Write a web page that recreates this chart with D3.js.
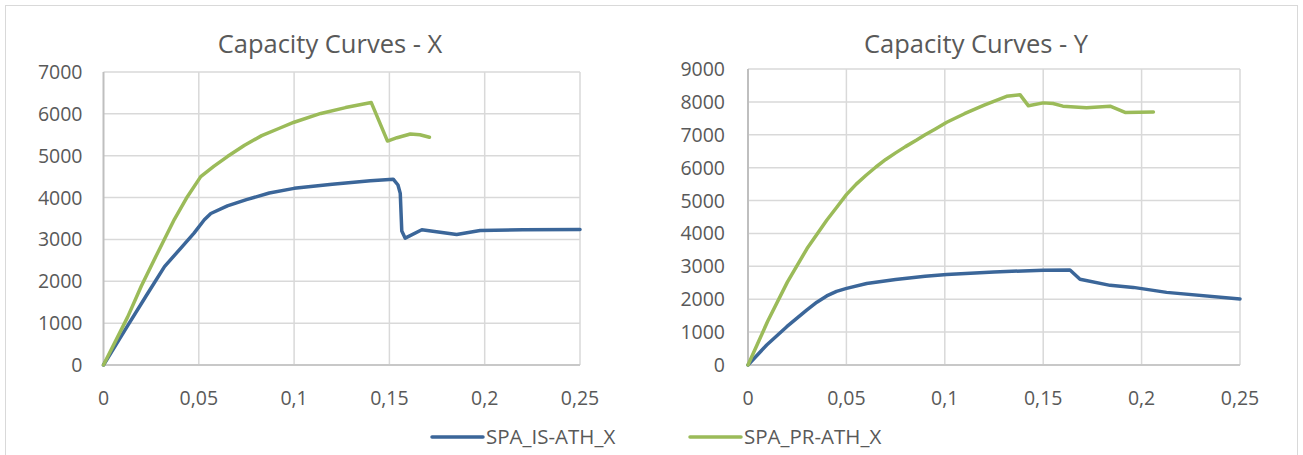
<!DOCTYPE html>
<html>
<head>
<meta charset="utf-8">
<script src="https://cdn.jsdelivr.net/npm/d3@7.9.0/dist/d3.min.js"></script>
<style>
  body { margin: 0; background: #fff; }
  svg { display: block; font-family: "Open Sans", sans-serif; }
</style>
</head>
<body>
<svg id="chart" width="1303" height="455"></svg>
<script>
// Capacity curves, X direction
const dispX_IS = [0, 0.0127, 0.0225, 0.032, 0.0407, 0.0475, 0.0529, 0.0563, 0.065, 0.075, 0.087, 0.1, 0.12, 0.14, 0.152, 0.1545, 0.1557, 0.1565, 0.1583, 0.167, 0.1853, 0.1976, 0.22, 0.25];
const baseX_IS = [0, 940, 1660, 2350, 2800, 3150, 3470, 3620, 3800, 3950, 4110, 4220, 4320, 4400, 4440, 4300, 4100, 3200, 3030, 3230, 3120, 3215, 3230, 3240];
const dispX_PR = [0, 0.0127, 0.0198, 0.0285, 0.0372, 0.044, 0.051, 0.058, 0.065, 0.074, 0.083, 0.092, 0.1, 0.114, 0.127, 0.1405, 0.149, 0.154, 0.161, 0.166, 0.171];
const baseX_PR = [0, 1150, 1880, 2690, 3480, 4020, 4500, 4750, 4980, 5250, 5480, 5650, 5800, 6010, 6150, 6270, 5350, 5430, 5520, 5500, 5440];

// Capacity curves, Y direction
const dispY_IS = [0, 0.0095, 0.0197, 0.0298, 0.035, 0.04, 0.045, 0.0501, 0.0603, 0.075, 0.09, 0.101, 0.125, 0.15, 0.1636, 0.1687, 0.184, 0.1958, 0.2127, 0.25];
const baseY_IS = [0, 610, 1165, 1670, 1910, 2100, 2240, 2330, 2480, 2600, 2700, 2750, 2830, 2880, 2888, 2605, 2422, 2360, 2208, 2010];
const dispY_PR = [0, 0.01, 0.02, 0.03, 0.04, 0.045, 0.05, 0.055, 0.06, 0.065, 0.07, 0.075, 0.08, 0.0857, 0.09, 0.095, 0.101, 0.11, 0.12, 0.1314, 0.1382, 0.1425, 0.15, 0.155, 0.16, 0.172, 0.184, 0.1916, 0.206];
const baseY_PR = [0, 1330, 2520, 3540, 4400, 4790, 5180, 5500, 5770, 6020, 6250, 6450, 6640, 6840, 7000, 7170, 7380, 7640, 7900, 8170, 8220, 7880, 7970, 7950, 7870, 7820, 7870, 7680, 7690];

const xTicks = [0, 0.05, 0.1, 0.15, 0.2, 0.25];
const yTicksX = [0, 1000, 2000, 3000, 4000, 5000, 6000, 7000];
const yTicksY = [0, 1000, 2000, 3000, 4000, 5000, 6000, 7000, 8000, 9000];
const seriesNames = ['SPA_IS-ATH_X', 'SPA_PR-ATH_X'];
const colors = ['#3b6699', '#9bbb59'];

const locale = d3.formatLocale({ decimal: ',', thousands: '', grouping: [3], currency: ['', ''] });
const fmtX = d => locale.format('~g')(d);

const svg = d3.select('#chart');

svg.append('rect')
  .attr('x', 5.5).attr('y', 5.5)
  .attr('width', 1292).attr('height', 460)
  .attr('fill', 'none').attr('stroke', '#d9d9d9');

function zip(xs, ys) {
  return xs.map((x, i) => [x, ys[i]]);
}

function drawChart(cfg) {
  const x = d3.scaleLinear().domain([0, 0.25]).range([cfg.left, cfg.right]);
  const y = d3.scaleLinear().domain([0, d3.max(cfg.yTicks)]).range([365, cfg.top]);
  const g = svg.append('g');

  // gridlines
  g.append('g').selectAll('line').data(cfg.yTicks.slice(1)).join('line')
    .attr('x1', cfg.left).attr('x2', cfg.right)
    .attr('y1', d => y(d)).attr('y2', d => y(d))
    .attr('stroke', '#d9d9d9').attr('stroke-width', 1.5);
  g.append('g').selectAll('line').data(xTicks.slice(1)).join('line')
    .attr('x1', d => x(d)).attr('x2', d => x(d))
    .attr('y1', y(0)).attr('y2', cfg.top)
    .attr('stroke', '#d9d9d9').attr('stroke-width', 1.5);

  // axis lines
  g.append('line').attr('x1', cfg.left).attr('x2', cfg.right)
    .attr('y1', y(0)).attr('y2', y(0))
    .attr('stroke', '#c8c8c8').attr('stroke-width', 2);
  g.append('line').attr('x1', cfg.left).attr('x2', cfg.left)
    .attr('y1', y(0) + 1).attr('y2', cfg.top)
    .attr('stroke', '#bfbfbf').attr('stroke-width', 2);

  // tick labels
  g.append('g').selectAll('text').data(cfg.yTicks).join('text')
    .attr('x', cfg.left - cfg.labelGap).attr('y', d => y(d))
    .attr('dy', '0.36em').attr('text-anchor', 'end')
    .attr('font-size', 19.5).attr('fill', '#595959')
    .text(d => d);
  g.append('g').selectAll('text').data(xTicks).join('text')
    .attr('x', d => x(d)).attr('y', 405)
    .attr('text-anchor', 'middle')
    .attr('font-size', 19.5).attr('fill', '#595959')
    .text(fmtX);

  // title
  g.append('text')
    .attr('x', cfg.titleX).attr('y', 53)
    .attr('text-anchor', 'middle')
    .attr('font-size', 25.5).attr('fill', '#595959')
    .text(cfg.title);

  const line = d3.line().x(d => x(d[0])).y(d => y(d[1]));
  cfg.series.forEach((s, i) => {
    g.append('path').datum(s)
      .attr('d', line)
      .attr('fill', 'none')
      .attr('stroke', colors[i])
      .attr('stroke-width', 3.5)
      .attr('stroke-linejoin', 'round')
      .attr('stroke-linecap', 'round');
  });
}

drawChart({
  title: 'Capacity Curves - X', titleX: 330,
  left: 103.5, right: 580, top: 72, labelGap: 21,
  yTicks: yTicksX,
  series: [zip(dispX_IS, baseX_IS), zip(dispX_PR, baseX_PR)]
});

drawChart({
  title: 'Capacity Curves - Y', titleX: 976,
  left: 748, right: 1240, top: 69, labelGap: 23,
  yTicks: yTicksY,
  series: [zip(dispY_IS, baseY_IS), zip(dispY_PR, baseY_PR)]
});

// legend
const legendX = [432, 690];
const legend = svg.append('g');
seriesNames.forEach((name, i) => {
  legend.append('line')
    .attr('x1', legendX[i]).attr('x2', legendX[i] + 51)
    .attr('y1', 437).attr('y2', 437)
    .attr('stroke', colors[i]).attr('stroke-width', 3.5)
    .attr('stroke-linecap', 'round');
  legend.append('text')
    .attr('x', legendX[i] + 54).attr('y', 444)
    .attr('font-size', 20.5).attr('fill', '#595959')
    .text(name);
});
</script>
</body>
</html>
